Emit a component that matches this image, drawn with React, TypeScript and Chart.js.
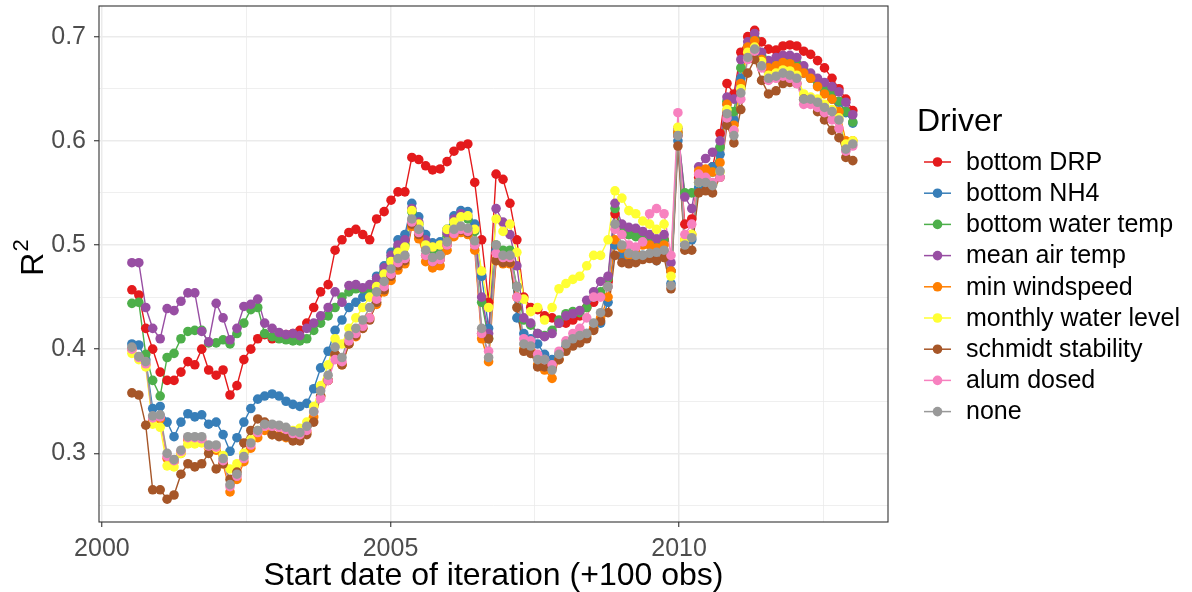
import React, { useEffect, useRef } from "react";
import { Chart, registerables } from "chart.js";

Chart.register(...registerables);

const FONT = "'Liberation Sans', Arial, sans-serif";

// Start date of each 100-observation iteration (decimal years)
const startDates = [
  2000.52, 2000.64, 2000.76, 2000.88, 2001.01, 2001.13, 2001.25, 2001.37, 2001.49, 2001.61,
  2001.73, 2001.85, 2001.98, 2002.10, 2002.22, 2002.34, 2002.46, 2002.58, 2002.70, 2002.82,
  2002.95, 2003.07, 2003.19, 2003.31, 2003.43, 2003.55, 2003.67, 2003.79, 2003.92, 2004.04,
  2004.16, 2004.28, 2004.40, 2004.52, 2004.64, 2004.76, 2004.89, 2005.01, 2005.13, 2005.25,
  2005.37, 2005.49, 2005.61, 2005.73, 2005.86, 2005.98, 2006.10, 2006.22, 2006.34, 2006.46,
  2006.58, 2006.70, 2006.83, 2006.95, 2007.07, 2007.19, 2007.31, 2007.43, 2007.55, 2007.67,
  2007.80, 2007.92, 2008.04, 2008.16, 2008.28, 2008.40, 2008.52, 2008.64, 2008.77, 2008.89,
  2009.01, 2009.13, 2009.25, 2009.37, 2009.49, 2009.61, 2009.74, 2009.86, 2009.98, 2010.10,
  2010.22, 2010.34, 2010.46, 2010.58, 2010.71, 2010.83, 2010.95, 2011.07, 2011.19, 2011.31,
  2011.43, 2011.55, 2011.68, 2011.80, 2011.92, 2012.04, 2012.16, 2012.28, 2012.40, 2012.52,
  2012.65, 2012.77, 2012.89, 2013.01,
];

// R² per driver
const r2BottomDRP = [
  0.457, 0.452, 0.420, 0.400, 0.378, 0.370, 0.370, 0.378, 0.388, 0.385,
  0.400, 0.380, 0.375, 0.380, 0.356, 0.365, 0.390, 0.400, 0.410, 0.414,
  0.410, 0.412, 0.414, 0.415, 0.418, 0.425, 0.440, 0.455, 0.462, 0.495,
  0.505, 0.512, 0.515, 0.510, 0.505, 0.525, 0.532, 0.543, 0.551, 0.551,
  0.584, 0.582, 0.576, 0.572, 0.573, 0.580, 0.590, 0.595, 0.597, 0.560,
  0.505, 0.445, 0.568, 0.563, 0.540, 0.505, 0.450, 0.440, 0.438, 0.432,
  0.430, 0.425, 0.425, 0.428, 0.432, 0.440, 0.445, 0.452, 0.465, 0.530,
  0.515, 0.510, 0.510, 0.510, 0.506, 0.500, 0.505, 0.475, 0.605, 0.520,
  0.525, 0.565, 0.570, 0.575, 0.607, 0.655, 0.645, 0.685, 0.700, 0.706,
  0.695, 0.688, 0.687, 0.691, 0.692, 0.691, 0.686, 0.683, 0.677, 0.670,
  0.660, 0.650, 0.640, 0.629,
];

const r2BottomNH4 = [
  0.405, 0.404, 0.390, 0.343, 0.345, 0.330, 0.316, 0.330, 0.338, 0.335,
  0.337, 0.328, 0.330, 0.318, 0.302, 0.315, 0.330, 0.343, 0.352, 0.355,
  0.357, 0.355, 0.350, 0.347, 0.345, 0.348, 0.362, 0.382, 0.398, 0.418,
  0.428, 0.440, 0.445, 0.450, 0.455, 0.470, 0.480, 0.493, 0.505, 0.510,
  0.540, 0.527, 0.510, 0.502, 0.503, 0.515, 0.528, 0.533, 0.532, 0.520,
  0.470, 0.420, 0.495, 0.490, 0.488, 0.430, 0.415, 0.410, 0.405, 0.395,
  0.390, 0.395, 0.402, 0.405, 0.410, 0.415, 0.420, 0.425, 0.445, 0.500,
  0.490, 0.488, 0.486, 0.490, 0.488, 0.485, 0.490, 0.463, 0.600, 0.500,
  0.505, 0.555, 0.560, 0.575, 0.587, 0.635, 0.620, 0.660, 0.690, 0.697,
  0.680, 0.673, 0.673, 0.675, 0.674, 0.672, 0.665, 0.660, 0.653, 0.647,
  0.640, 0.637, 0.627, 0.617,
];

const r2BottomWaterTemp = [
  0.444, 0.445, 0.395, 0.370, 0.355, 0.392, 0.396, 0.410, 0.417, 0.418,
  0.418, 0.406, 0.406, 0.409, 0.405, 0.415, 0.425, 0.438, 0.440, 0.415,
  0.412, 0.410, 0.409, 0.408, 0.408, 0.410, 0.418, 0.425, 0.432, 0.440,
  0.450, 0.455, 0.458, 0.458, 0.458, 0.465, 0.475, 0.487, 0.497, 0.500,
  0.532, 0.520, 0.502, 0.495, 0.497, 0.510, 0.522, 0.527, 0.525, 0.513,
  0.445, 0.410, 0.500, 0.495, 0.495, 0.460, 0.428, 0.423, 0.415, 0.413,
  0.418, 0.428, 0.434, 0.436, 0.435, 0.440, 0.450, 0.455, 0.468, 0.535,
  0.515, 0.510, 0.508, 0.506, 0.505, 0.500, 0.505, 0.475, 0.608, 0.550,
  0.550, 0.560, 0.565, 0.570, 0.594, 0.638, 0.628, 0.670, 0.690, 0.698,
  0.682, 0.675, 0.675, 0.677, 0.676, 0.674, 0.668, 0.663, 0.657, 0.650,
  0.645, 0.638, 0.628, 0.618,
];

const r2MeanAirTemp = [
  0.483, 0.483, 0.440, 0.420, 0.410, 0.439, 0.437, 0.446, 0.454, 0.454,
  0.417, 0.407, 0.444, 0.430, 0.409, 0.420, 0.441, 0.443, 0.448, 0.425,
  0.420, 0.416, 0.414, 0.415, 0.413, 0.420, 0.425, 0.432, 0.440, 0.455,
  0.445, 0.461, 0.462, 0.459, 0.462, 0.468, 0.478, 0.490, 0.500, 0.505,
  0.535, 0.522, 0.505, 0.498, 0.500, 0.512, 0.525, 0.530, 0.528, 0.515,
  0.450, 0.415, 0.535, 0.522, 0.510, 0.480, 0.430, 0.425, 0.415, 0.412,
  0.415, 0.425, 0.432, 0.434, 0.437, 0.447, 0.455, 0.465, 0.470, 0.540,
  0.520, 0.517, 0.516, 0.513, 0.510, 0.506, 0.510, 0.483, 0.612, 0.546,
  0.535, 0.575, 0.583, 0.589, 0.600, 0.642, 0.640, 0.678, 0.695, 0.703,
  0.685, 0.677, 0.680, 0.682, 0.682, 0.680, 0.672, 0.665, 0.660, 0.656,
  0.652, 0.647, 0.637, 0.625,
];

const r2MinWindspeed = [
  0.400, 0.392, 0.385, 0.332, 0.333, 0.295, 0.292, 0.300, 0.313, 0.313,
  0.312, 0.305, 0.303, 0.290, 0.263, 0.275, 0.292, 0.305, 0.315, 0.322,
  0.318, 0.317, 0.315, 0.314, 0.316, 0.320, 0.335, 0.355, 0.370, 0.395,
  0.385, 0.405, 0.412, 0.420, 0.430, 0.443, 0.455, 0.466, 0.476, 0.482,
  0.518, 0.506, 0.484, 0.478, 0.480, 0.495, 0.508, 0.512, 0.510, 0.495,
  0.410, 0.388, 0.485, 0.482, 0.482, 0.450, 0.400, 0.398, 0.385, 0.380,
  0.372, 0.390, 0.400, 0.405, 0.410, 0.412, 0.420, 0.430, 0.450, 0.505,
  0.497, 0.490, 0.493, 0.500, 0.500, 0.497, 0.500, 0.475, 0.608, 0.505,
  0.510, 0.571, 0.573, 0.570, 0.579, 0.635, 0.615, 0.655, 0.690, 0.696,
  0.678, 0.670, 0.672, 0.675, 0.674, 0.670, 0.665, 0.660, 0.652, 0.645,
  0.640, 0.628, 0.600, 0.600,
];

const r2MonthlyWaterLevel = [
  0.396, 0.390, 0.383, 0.328, 0.325, 0.288, 0.287, 0.300, 0.309, 0.309,
  0.310, 0.306, 0.305, 0.298, 0.285, 0.290, 0.300, 0.313, 0.322, 0.326,
  0.326, 0.326, 0.322, 0.322, 0.324, 0.330, 0.345, 0.365, 0.385, 0.410,
  0.405, 0.420, 0.430, 0.440, 0.450, 0.460, 0.472, 0.484, 0.493, 0.498,
  0.533, 0.520, 0.500, 0.498, 0.500, 0.515, 0.522, 0.527, 0.528, 0.515,
  0.475, 0.440, 0.525, 0.513, 0.520, 0.493, 0.448, 0.436, 0.440, 0.428,
  0.440, 0.458, 0.463, 0.467, 0.470, 0.480, 0.490, 0.490, 0.505, 0.552,
  0.545, 0.533, 0.530, 0.523, 0.520, 0.515, 0.520, 0.470, 0.613, 0.505,
  0.510, 0.560, 0.562, 0.558, 0.570, 0.630, 0.610, 0.650, 0.685, 0.690,
  0.676, 0.663, 0.665, 0.668, 0.667, 0.663, 0.645, 0.642, 0.640, 0.635,
  0.630, 0.622, 0.597, 0.600,
];

const r2SchmidtStability = [
  0.358, 0.356, 0.327, 0.265, 0.265, 0.256, 0.260, 0.280, 0.290, 0.287,
  0.290, 0.300, 0.285, 0.290, 0.275, 0.282, 0.310, 0.322, 0.333, 0.330,
  0.318, 0.316, 0.316, 0.312, 0.312, 0.318, 0.330, 0.355, 0.370, 0.395,
  0.385, 0.405, 0.413, 0.420, 0.428, 0.445, 0.457, 0.470, 0.480, 0.485,
  0.520, 0.510, 0.490, 0.484, 0.486, 0.500, 0.512, 0.514, 0.512, 0.500,
  0.415, 0.410, 0.485, 0.483, 0.483, 0.440, 0.398, 0.396, 0.383, 0.383,
  0.382, 0.390, 0.398, 0.403, 0.406, 0.410, 0.418, 0.427, 0.435, 0.490,
  0.483, 0.482, 0.483, 0.486, 0.487, 0.485, 0.488, 0.458, 0.595, 0.495,
  0.495, 0.550, 0.552, 0.550, 0.565, 0.615, 0.598, 0.630, 0.665, 0.678,
  0.658, 0.645, 0.648, 0.655, 0.656, 0.655, 0.640, 0.637, 0.628, 0.620,
  0.610, 0.603, 0.584, 0.581,
];

const r2AlumDosed = [
  0.400, 0.392, 0.386, 0.334, 0.335, 0.297, 0.293, 0.302, 0.315, 0.315,
  0.314, 0.307, 0.306, 0.293, 0.268, 0.278, 0.295, 0.308, 0.320, 0.326,
  0.326, 0.325, 0.323, 0.319, 0.318, 0.322, 0.340, 0.353, 0.370, 0.390,
  0.388, 0.408, 0.415, 0.422, 0.430, 0.448, 0.460, 0.472, 0.483, 0.487,
  0.522, 0.512, 0.490, 0.484, 0.486, 0.500, 0.511, 0.515, 0.513, 0.500,
  0.415, 0.398, 0.492, 0.488, 0.488, 0.450, 0.410, 0.408, 0.395, 0.390,
  0.385, 0.398, 0.408, 0.415, 0.420, 0.430, 0.450, 0.450, 0.460, 0.515,
  0.510, 0.500, 0.498, 0.503, 0.530, 0.535, 0.530, 0.490, 0.627, 0.510,
  0.520, 0.568, 0.565, 0.560, 0.565, 0.622, 0.610, 0.640, 0.678, 0.686,
  0.670, 0.658, 0.660, 0.662, 0.660, 0.655, 0.635, 0.635, 0.632, 0.627,
  0.620, 0.612, 0.590, 0.595,
];

const r2None = [
  0.402, 0.393, 0.388, 0.336, 0.337, 0.300, 0.294, 0.303, 0.316, 0.316,
  0.316, 0.308, 0.308, 0.295, 0.270, 0.280, 0.297, 0.310, 0.322, 0.328,
  0.328, 0.327, 0.325, 0.321, 0.320, 0.326, 0.340, 0.360, 0.375, 0.402,
  0.392, 0.413, 0.420, 0.428, 0.440, 0.455, 0.465, 0.477, 0.487, 0.490,
  0.525, 0.515, 0.495, 0.488, 0.490, 0.503, 0.515, 0.518, 0.516, 0.504,
  0.420, 0.392, 0.500, 0.490, 0.490, 0.460, 0.405, 0.403, 0.390, 0.390,
  0.380, 0.395, 0.405, 0.410, 0.413, 0.415, 0.425, 0.435, 0.460, 0.520,
  0.500, 0.492, 0.490, 0.490, 0.492, 0.493, 0.495, 0.461, 0.605, 0.500,
  0.507, 0.560, 0.560, 0.557, 0.571, 0.626, 0.605, 0.646, 0.680, 0.688,
  0.672, 0.660, 0.662, 0.665, 0.663, 0.660, 0.640, 0.640, 0.637, 0.632,
  0.628, 0.620, 0.592, 0.597,
];

const driverNames = [
  "bottom DRP",
  "bottom NH4",
  "bottom water temp",
  "mean air temp",
  "min windspeed",
  "monthly water level",
  "schmidt stability",
  "alum dosed",
  "none",
];

const driverColors = [
  "#E41A1C",
  "#377EB8",
  "#4DAF4A",
  "#984EA3",
  "#FF7F00",
  "#FFFF33",
  "#A65628",
  "#F781BF",
  "#999999",
];

const driverValues = [
  r2BottomDRP,
  r2BottomNH4,
  r2BottomWaterTemp,
  r2MeanAirTemp,
  r2MinWindspeed,
  r2MonthlyWaterLevel,
  r2SchmidtStability,
  r2AlumDosed,
  r2None,
];

const xGridValues = [2000, 2002.5, 2005, 2007.5, 2010, 2012.5];
const yGridValues = [0.25, 0.3, 0.35, 0.4, 0.45, 0.5, 0.55, 0.6, 0.65, 0.7];

const X_TITLE = "Start date of iteration (+100 obs)";
const LEGEND_TITLE = "Driver";

const TITLE_SIZE = 32;
const TEXT_SIZE = 25;

const isMajorYear = (v: number) => Math.abs(v % 5) < 1e-6;
const isMajorR2 = (v: number) => Math.abs(v * 10 - Math.round(v * 10)) < 1e-6;

const decorPlugin = {
  id: "decor",
  afterDatasetsDraw(chart: any) {
    const { ctx, chartArea: a } = chart;
    ctx.save();
    ctx.strokeStyle = "#333333";
    ctx.lineWidth = 1.1;
    ctx.strokeRect(a.left, a.top, a.right - a.left, a.bottom - a.top);
    ctx.restore();
  },
  afterDraw(chart: any) {
    const { ctx, chartArea: a } = chart;
    ctx.save();

    // x-axis title
    ctx.fillStyle = "#000000";
    ctx.font = `${TITLE_SIZE}px ${FONT}`;
    ctx.textAlign = "center";
    ctx.textBaseline = "middle";
    ctx.fillText(X_TITLE, (a.left + a.right) / 2, 576);

    // y-axis title: R with superscript 2
    ctx.save();
    ctx.translate(31, 258);
    ctx.rotate(-Math.PI / 2);
    ctx.font = `${TITLE_SIZE}px ${FONT}`;
    const rW = ctx.measureText("R").width;
    ctx.font = `22px ${FONT}`;
    const sW = ctx.measureText("2").width;
    const start = -(rW + sW) / 2;
    ctx.textAlign = "left";
    ctx.textBaseline = "alphabetic";
    ctx.font = `${TITLE_SIZE}px ${FONT}`;
    ctx.fillText("R", start, 12);
    ctx.font = `22px ${FONT}`;
    ctx.fillText("2", start + rW + 1, -3);
    ctx.restore();

    // legend
    ctx.textAlign = "left";
    ctx.textBaseline = "middle";
    ctx.font = `${TITLE_SIZE}px ${FONT}`;
    ctx.fillStyle = "#000000";
    ctx.fillText(LEGEND_TITLE, 917, 122);
    ctx.font = `${TEXT_SIZE}px ${FONT}`;
    driverNames.forEach((name, i) => {
      const y = 162 + i * 31.2;
      ctx.strokeStyle = driverColors[i];
      ctx.lineWidth = 1.5;
      ctx.beginPath();
      ctx.moveTo(924, y);
      ctx.lineTo(951, y);
      ctx.stroke();
      ctx.fillStyle = driverColors[i];
      ctx.beginPath();
      ctx.arc(937.5, y, 4.8, 0, Math.PI * 2);
      ctx.fill();
      ctx.fillStyle = "#000000";
      ctx.fillText(name, 966, y + 1);
    });
    ctx.restore();
  },
};

export default function App() {
  const canvasRef = useRef<HTMLCanvasElement | null>(null);

  useEffect(() => {
    const canvas = canvasRef.current;
    if (!canvas) return;

    const lineSets = driverNames.map((name, i) => ({
      type: "line" as const,
      label: name + " line",
      data: startDates.map((d, k) => ({ x: d, y: driverValues[i][k] })),
      borderColor: driverColors[i],
      borderWidth: 1.4,
      pointRadius: 0,
      pointHoverRadius: 0,
      tension: 0,
      fill: false,
      order: 30 - i,
    }));

    const pointSets = driverNames.map((name, i) => ({
      type: "line" as const,
      label: name,
      data: startDates.map((d, k) => ({ x: d, y: driverValues[i][k] })),
      showLine: false,
      borderColor: driverColors[i],
      backgroundColor: driverColors[i],
      pointBackgroundColor: driverColors[i],
      pointBorderWidth: 0,
      pointRadius: 4.8,
      pointHoverRadius: 4.8,
      order: 10 - i,
    }));

    const chart = new Chart(canvas, {
      type: "line",
      data: { datasets: [...lineSets, ...pointSets] as any },
      options: {
        responsive: false,
        devicePixelRatio: 1,
        animation: false,
        events: [],
        layout: { padding: { left: 0, right: 304, top: 6, bottom: 0 } },
        plugins: {
          legend: { display: false },
          tooltip: { enabled: false },
        },
        scales: {
          x: {
            type: "linear",
            min: 1999.95,
            max: 2013.62,
            afterBuildTicks: (s: any) => {
              s.ticks = xGridValues.map((v) => ({ value: v }));
            },
            afterFit: (s: any) => {
              s.height = 70;
              s.paddingLeft = 0;
              s.paddingRight = 0;
            },
            border: { display: false },
            grid: {
              color: "#ebebeb",
              lineWidth: (c: any) => (c.tick && isMajorYear(c.tick.value) ? 1.5 : 0.8),
              tickLength: 5,
              tickColor: (c: any) =>
                c.tick && isMajorYear(c.tick.value) ? "#333333" : "rgba(0,0,0,0)",
              tickWidth: 1.1,
            },
            ticks: {
              autoSkip: false,
              maxRotation: 0,
              padding: 7,
              color: "#4d4d4d",
              font: { family: FONT, size: TEXT_SIZE },
              callback: (v: any) => (isMajorYear(Number(v)) ? String(v) : ""),
            },
          },
          y: {
            type: "linear",
            min: 0.2341,
            max: 0.7294,
            afterBuildTicks: (s: any) => {
              s.ticks = yGridValues.map((v) => ({ value: v }));
            },
            afterFit: (s: any) => {
              s.width = 99;
              s.paddingTop = 0;
              s.paddingBottom = 0;
            },
            border: { display: false },
            grid: {
              color: "#ebebeb",
              lineWidth: (c: any) => (c.tick && isMajorR2(c.tick.value) ? 1.5 : 0.8),
              tickLength: 5,
              tickColor: (c: any) =>
                c.tick && isMajorR2(c.tick.value) ? "#333333" : "rgba(0,0,0,0)",
              tickWidth: 1.1,
            },
            ticks: {
              autoSkip: false,
              padding: 8,
              color: "#4d4d4d",
              font: { family: FONT, size: TEXT_SIZE },
              callback: (v: any) => (isMajorR2(Number(v)) ? Number(v).toFixed(1) : ""),
            },
          },
        },
      },
      plugins: [decorPlugin],
    });

    return () => chart.destroy();
  }, []);

  return (
    <div
      style={{
        position: "absolute",
        left: 0,
        top: 0,
        width: 1192,
        height: 592,
        background: "#ffffff",
      }}
    >
      <canvas ref={canvasRef} width={1192} height={592} style={{ display: "block" }} />
    </div>
  );
}
